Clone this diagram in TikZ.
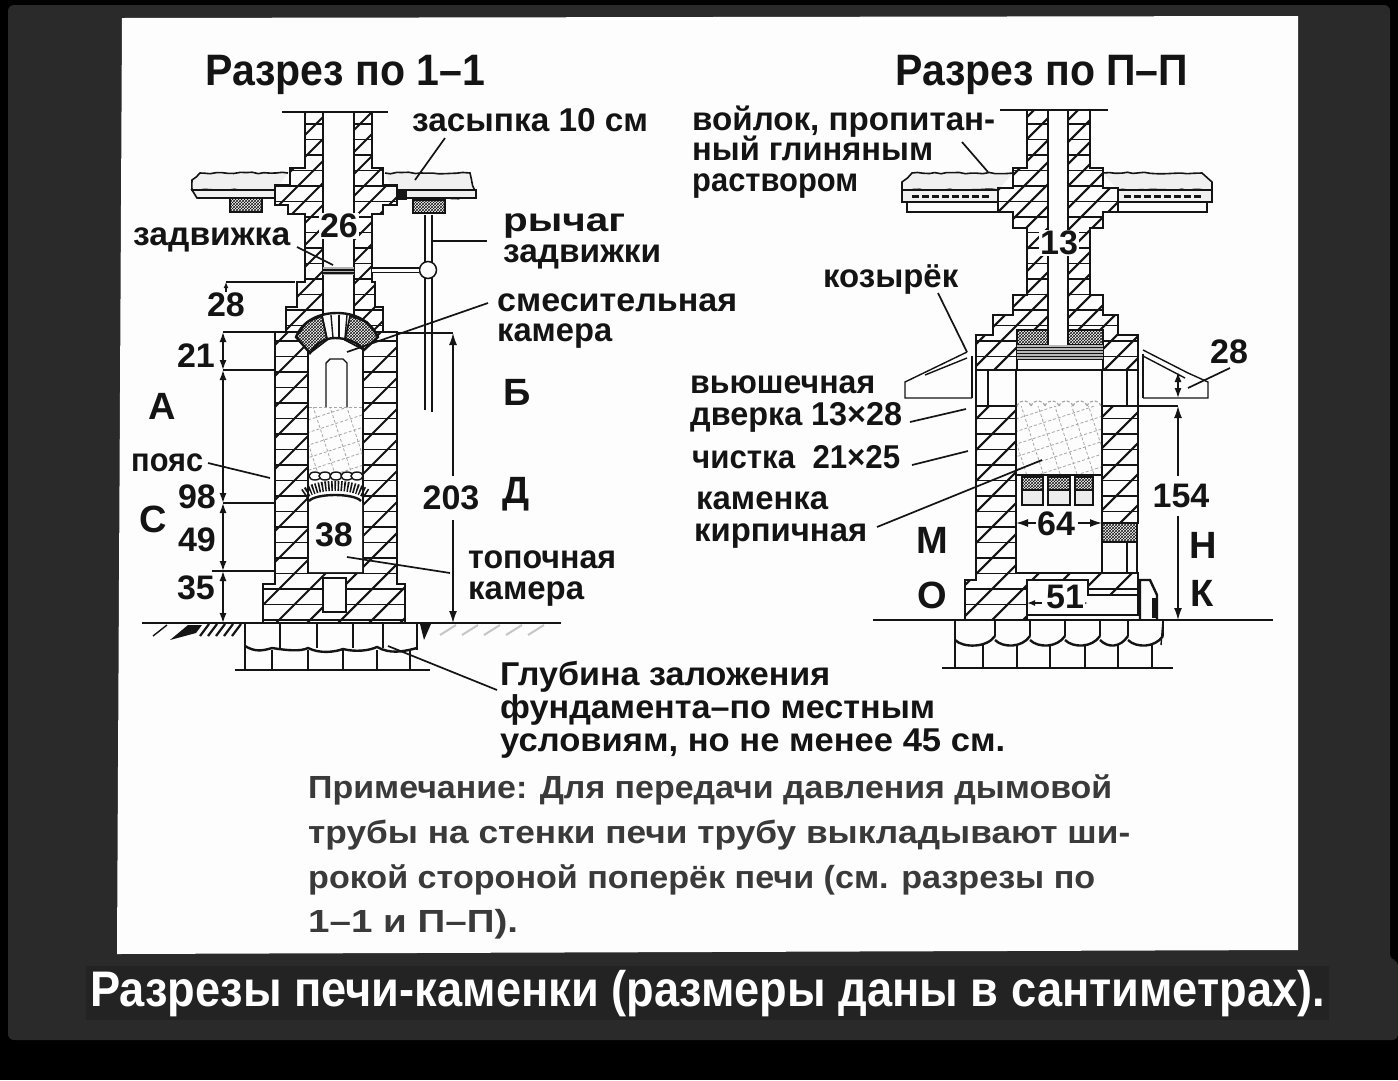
\documentclass[tikz,border=0pt]{standalone}
\usepackage{fontspec}
\setmainfont{Liberation Sans}
\usepackage{graphicx}
\usetikzlibrary{arrows.meta,patterns,decorations.pathmorphing}
\definecolor{ink}{HTML}{141414}
\definecolor{soft}{HTML}{3A3A3A}
\definecolor{paper}{HTML}{FDFDFD}
\definecolor{slide}{HTML}{2A2A2A}
\definecolor{capbg}{HTML}{232323}
\newcommand{\fitw}[2]{\resizebox{#1pt}{\height}{#2}}
% wall of bricks, spacing of the diagonals and a closed path
\newcommand{\brick}[2]{
  \begin{scope}
    \clip #2;
    \fill[paper] (0,0) rectangle (1398,1080);
    \foreach \h in {0,15.5,...,1080} {
      \draw[course] (0,\h) -- (1398,\h);
    }
    \foreach \d in {0,#1,...,2500} {
      \draw[hatch] (\d,0) -- (\d-1080,1080);
    }
  \end{scope}
  \draw[wall] #2;
}
% broken stone: x1, y1, x2, y2
\newcommand{\rubble}[4]{
  \begin{scope}
    \clip (#1,#2) rectangle (#3,#4);
    \begin{scope}[rotate around={18:(#1,#2)}]
      \foreach \h in {-60,-48,...,200} {
        \draw[rub] (#1-80,#2+\h) -- (#3+80,#2+\h);
      }
      \foreach \h in {-60,-44,...,200} {
        \draw[rub] (#1+\h,#2-80) -- (#1+\h,#4+80);
      }
    \end{scope}
  \end{scope}
}
\tikzset{
  lab/.style={anchor=base west,inner sep=0pt,text=ink,font=\bfseries\fontsize{33}{33}\selectfont},
  num/.style={inner sep=1pt,fill=paper,text=ink,font=\bfseries\fontsize{34}{34}\selectfont},
  big/.style={inner sep=0pt,text=ink,font=\bfseries\fontsize{38}{38}\selectfont},
  note/.style={anchor=base west,inner sep=0pt,text=soft,font=\bfseries\fontsize{32}{32}\selectfont},
  course/.style={line width=1.8pt,ink},
  hatch/.style={line width=2.1pt,ink},
  wall/.style={line width=2.4pt,ink},
  thin/.style={line width=1.4pt,ink},
  leader/.style={line width=1.7pt,ink},
  dimline/.style={line width=1.4pt,ink,{Latex[length=10pt,width=7pt]}-{Latex[length=10pt,width=7pt]}},
  rub/.style={line width=.8pt,gray!70,dash pattern=on 3pt off 2pt},
  slab/.style={fill=gray!12,draw=ink,line width=1.6pt},
  cross/.style={pattern=crosshatch,pattern color=ink,draw=ink,line width=1.6pt},
  rough/.style={decorate,decoration={random steps,segment length=6pt,amplitude=.8pt}}
}
\begin{document}
\begin{tikzpicture}[x=1pt,y=-1pt]
  \useasboundingbox (0,0) rectangle (1398,1080);
  % Slide and paper
  \fill[black] (0,0) rectangle (1398,1080);
  \fill[slide,rounded corners=6pt] (8,5) -- (1390,5) -- (1390,960) -- (1398,960) -- (1398,1040) -- (8,1040) -- cycle;
  \fill[paper] (122,18) -- (1298,16) -- (1298,950) -- (117,954) -- cycle;

  % Section 1-1: ceiling
  \draw[slab,rough] (288,173) -- (200,173) -- (192,180) -- (192,190) -- (275,190);
  \draw[slab] (192,190) -- (275,190) -- (275,198) -- (197,198) -- cycle;
  \draw[cross] (230,198) rectangle (262,212);
  \draw[slab,rough] (385,173) -- (470,173) -- (476,198) -- (397,198);
  \draw[slab] (397,190) rectangle (476,198);
  \fill[ink] (398,190) rectangle (407,200);
  \draw[cross] (413,200) rectangle (445,213);
  \draw[wall] (419,213) -- (436,213);
  % Section 1-1: chimney
  \draw[thin] (282,112) -- (388,112);
  \brick{22}{(305,112) -- (323,112) -- (323,332) -- (286,332) -- (286,307) -- (297,307) -- (297,282) -- (305,282) -- (305,214) -- (288,214) -- (288,205) -- (275,205) -- (275,185) -- (290,185) -- (290,168) -- (305,168) -- cycle}
  \brick{22}{(354,112) -- (372,112) -- (372,168) -- (383,168) -- (383,185) -- (397,185) -- (397,205) -- (383,205) -- (383,214) -- (372,214) -- (372,282) -- (375,282) -- (375,307) -- (383,307) -- (383,332) -- (354,332) -- cycle}
  % Section 1-1: lever and damper
  \draw[thin] (425,215) -- (425,410);
  \draw[thin] (432,215) -- (432,412);
  \node[circle,draw=ink,fill=paper,line width=1.5pt,minimum size=17pt,inner sep=0pt] (knob) at (428,270) {};
  \fill[gray!60] (323,267) rectangle (354,275);
  \draw[thin] (323,270) -- (354,270);
  \draw[thin] (323,273) -- (354,273);
  \draw[thin,double=paper,double distance=3pt] (372,270) -- (knob);

  % Section 1-1: body
  \brick{31}{(275,332) -- (308,332) -- (308,572) -- (363,572) -- (363,332) -- (397,332) -- (397,584) -- (405,584) -- (405,623) -- (263,623) -- (263,584) -- (275,584) -- cycle}
  \draw[wall,fill=paper] (323,578) rectangle (346,612);
  % Section 1-1: upper arch
  \draw[wall,fill=paper] (296,337) .. controls (303,320) and (320,313) .. (337,313)
    .. controls (354,313) and (370,320) .. (378,337) -- (364,350)
    .. controls (358,342) and (346,338) .. (335,338)
    .. controls (324,338) and (316,344) .. (310,353) -- cycle;
  \foreach \a/\b in {322/327,331/333,339/339,347/345} {
    \draw[thin] (\a,315) -- (\b,338);
  }
  \draw[cross] (296,337) -- (307,322) -- (322,316) -- (327,340) -- (310,353) -- cycle;
  \draw[cross] (378,337) -- (367,322) -- (350,316) -- (345,340) -- (364,350) -- cycle;
  % Section 1-1: flue and stones
  \draw[thin] (326,407) -- (326,363) -- (330,359) -- (343,359) -- (347,363) -- (347,407);
  \rubble{309}{407}{362}{474}
  \draw[rub] (309,407) -- (362,407);
  \foreach \x in {315,325,336,347,357} {
    \draw[thin,fill=paper] (\x,476) ellipse (6 and 4);
  }
  % Section 1-1: lower arch
  \draw[fill=paper,draw=none] (309,503) .. controls (315,494) and (355,494) .. (362,503) -- (362,572) -- (309,572) -- cycle;
  \draw[ink,line width=10pt,dash pattern=on 1.6pt off 1.6pt] (304,494) .. controls (318,483) and (352,483) .. (367,494);
  \draw[wall] (309,501) .. controls (316,493) and (354,493) .. (361,501);

  % Section 1-1: ground and footing
  \draw[thin] (142,623) -- (561,623);
  \draw[thin] (245,623) -- (245,670);
  \draw[thin] (417,623) -- (417,650);
  \draw[thin] (235,670) -- (430,670);
  \foreach \x in {280,317,353,383} {
    \draw[thin] (\x,623) -- (\x,648);
  }
  \foreach \x in {272,308,343,377,410} {
    \draw[thin] (\x,650) -- (\x,670);
  }
  \draw[line width=2.4pt,ink] (245,646) .. controls (255,652) and (262,651) .. (272,648)
    .. controls (285,650) and (300,652) .. (308,648)
    .. controls (320,654) and (335,652) .. (343,649)
    .. controls (355,652) and (368,651) .. (377,647)
    .. controls (390,654) and (402,652) .. (417,648);
  \fill[ink] (170,640) -- (188,625) -- (202,625) -- (196,633) -- cycle;
  \foreach \x in {200,208,216,224,232} {
    \draw[line width=2.2pt,ink] (\x,636) -- (\x+9,624);
  }
  \fill[ink] (420,624) -- (431,624) -- (424,640) -- cycle;
  \draw[thin] (153,636) -- (167,625);
  \foreach \x in {440,462,484,506,528} {
    \draw[line width=2pt,gray!45] (\x,635) -- (\x+16,625);
  }

  % Section 1-1: dimensions
  \coordinate (la) at (223,332);
  \coordinate (lb) at (223,370);
  \coordinate (lc) at (223,503);
  \coordinate (ld) at (223,571);
  \coordinate (le) at (223,623);
  \coordinate (lf) at (226,282);
  \draw[dimline] (la) -- (lb);
  \draw[dimline] (lb) -- (lc);
  \draw[dimline] (lc) -- (ld);
  \draw[dimline] (ld) -- (le);
  \draw[thin,-{Latex[length=6pt,width=5pt]}] (226,292) -- (lf);
  \draw[thin] (lf) -- (295,282);
  \draw[thin] (la) -- (275,332);
  \draw[thin] (lb) -- (275,370);
  \draw[thin] (lc) -- (275,503);
  \draw[thin] (212,571) -- (275,571);
  \coordinate (ra) at (453,333);
  \coordinate (rb) at (453,476);
  \coordinate (rc) at (453,520);
  \coordinate (rd) at (453,623);
  \draw[thin] (397,333) -- (ra);
  \draw[thin,{Latex[length=12pt,width=8pt]}-] (ra) -- (rb);
  \draw[thin,-{Latex[length=12pt,width=8pt]}] (rc) -- (rd);

  % Section 2-2: ceiling
  \draw[slab,rough] (1013,173) -- (912,173) -- (902,182) -- (902,190) -- (998,190);
  \draw[slab] (902,190) rectangle (998,202);
  \draw[thin] (907,202) rectangle (998,212);
  \foreach \x in {912,932,952,972} {
    \draw[ink,line width=3pt,dash pattern=on 7pt off 3pt] (\x,196) -- (\x+18,196);
  }
  \draw[slab,rough] (1103,173) -- (1202,173) -- (1212,182) -- (1212,190) -- (1118,190);
  \draw[slab] (1118,190) rectangle (1212,202);
  \draw[thin] (1118,202) rectangle (1207,212);
  \foreach \x in {1124,1144,1164,1184} {
    \draw[ink,line width=3pt,dash pattern=on 7pt off 3pt] (\x,196) -- (\x+18,196);
  }
  % Section 2-2: chimney and corbels
  \draw[thin] (1000,110) -- (1108,110);
  \brick{22}{(1027,110) -- (1048,110) -- (1048,330) -- (1017,330) -- (1017,370) -- (976,370) -- (976,335) -- (993,335) -- (993,315) -- (1013,315) -- (1013,295) -- (1027,295) -- (1027,228) -- (1013,228) -- (1013,212) -- (998,212) -- (998,188) -- (1013,188) -- (1013,168) -- (1027,168) -- cycle}
  \brick{22}{(1068,110) -- (1090,110) -- (1090,168) -- (1103,168) -- (1103,188) -- (1118,188) -- (1118,212) -- (1103,212) -- (1103,228) -- (1090,228) -- (1090,295) -- (1103,295) -- (1103,315) -- (1118,315) -- (1118,335) -- (1138,335) -- (1138,370) -- (1103,370) -- (1103,330) -- (1068,330) -- cycle}
  \draw[cross] (1017,330) rectangle (1048,345);
  \draw[cross] (1068,330) rectangle (1103,345);
  \fill[gray!55] (1017,345) rectangle (1103,360);
  \foreach \y in {347,350,353,356,359} {
    \draw[line width=1pt,ink] (1017,\y) -- (1103,\y);
  }
  % Section 2-2: shelf with visor
  \draw[wall] (976,370) rectangle (1016,406);
  \draw[wall] (1102,370) rectangle (1138,406);
  \draw[thin] (988,370) -- (988,406);
  \draw[thin] (1127,370) -- (1127,406);
  \draw[thin] (1016,370) -- (1102,370);
  \draw[thin] (967,352) -- (905,382) -- (905,398) -- (972,398);
  \draw[thin] (967,358) -- (925,375);
  \draw[thin] (972,356) -- (972,398);
  \draw[thin] (1143,350) -- (1188,373) -- (1208,382) -- (1208,398) -- (1143,398);
  \draw[thin] (1143,356) -- (1185,378);
  \draw[thin] (1143,354) -- (1143,398);
  % Section 2-2: body
  \brick{31}{(976,406) -- (1016,406) -- (1016,573) -- (1102,573) -- (1102,406) -- (1138,406) -- (1138,523) -- (1102,523) -- (1102,573) -- (1138,573) -- (1138,595) -- (1088,595) -- (1088,580) -- (1027,580) -- (1027,620) -- (965,620) -- (965,580) -- (976,580) -- cycle}
  \rubble{1017}{406}{1101}{475}
  \foreach \x in {1024,1038,1052,1066,1080,1094} {
    \draw[rub,line width=1.2pt] (\x-7,406) .. controls (\x-4,399) and (\x+4,399) .. (\x+7,406);
  }
  \draw[thin] (1017,475) -- (1101,475);
  \foreach \x/\w in {1022/21,1048/22,1075/18} {
    \draw[cross] (\x,477) rectangle ++(\w,13);
    \draw[wall,fill=gray!15] (\x,490) rectangle ++(\w,15);
  }
  \draw[cross] (1102,523) rectangle (1137,542);
  \draw[wall] (1102,542) rectangle (1127,573);
  \draw[wall] (1127,542) rectangle (1137,573);
  \draw[thin] (1027,615) -- (1138,615) -- (1138,595);
  \draw[wall] (1140,620) -- (1140,580) -- (1150,580) -- (1157,595) -- (1157,620);
  \draw[ink,line width=4pt] (1154,598) -- (1154,618);
  % Section 2-2: ground and footing
  \draw[thin] (873,620) -- (1273,620);
  \draw[thin] (955,620) -- (955,668);
  \draw[thin] (1163,620) -- (1161,645);
  \draw[thin] (942,668) -- (1173,668);
  \foreach \a/\b in {955/995,995/1030,1030/1065,1065/1100,1100/1128,1128/1163} {
    \draw[wall] (\a,640) .. controls (\a+8,648) and (\b-8,648) .. (\b,636);
    \draw[thin] (\b,620) -- (\b,636);
  }
  \foreach \x in {983,1017,1050,1085,1118,1152} {
    \draw[thin] (\x,645) -- (\x,668);
  }

  % Section 2-2: dimensions
  \coordinate (ha) at (1178,406);
  \coordinate (hb) at (1178,476);
  \coordinate (hc) at (1178,516);
  \coordinate (hd) at (1178,620);
  \coordinate (va) at (1178,372);
  \coordinate (vb) at (1178,398);
  \draw[thin] (1138,406) -- (ha);
  \draw[thin,{Latex[length=12pt,width=8pt]}-] (ha) -- (hb);
  \draw[thin,-{Latex[length=12pt,width=8pt]}] (hc) -- (hd);
  \draw[dimline] (va) -- (vb);
  \coordinate (wa) at (1016,523);
  \coordinate (wb) at (1038,523);
  \coordinate (wc) at (1078,523);
  \coordinate (wd) at (1102,523);
  \draw[line width=1.5pt,ink,{Latex[length=12pt,width=8pt]}-] (wa) -- (wb);
  \draw[line width=1.5pt,ink,-{Latex[length=12pt,width=8pt]}] (wc) -- (wd);
  \coordinate (pa) at (1027,603);
  \coordinate (pb) at (1042,603);
  \coordinate (pc) at (1076,603);
  \coordinate (pd) at (1088,603);
  \draw[line width=1.5pt,ink,{Latex[length=8pt,width=6pt]}-] (pa) -- (pb);
  \draw[line width=1.5pt,ink,-{Latex[length=8pt,width=6pt]}] (pc) -- (pd);

  % Titles
  \node[lab,font=\bfseries\fontsize{44}{44}\selectfont] (titleA) at (205,85) {\fitw{280}{Разрез по 1–1}};
  \node[lab,font=\bfseries\fontsize{44}{44}\selectfont] (titleB) at (895,85) {\fitw{293}{Разрез по П–П}};
  % Labels of section 1-1
  \node[lab] (zas) at (412,131) {\fitw{236}{засыпка 10 см}};
  \node[lab] (zad) at (133,245) {\fitw{157}{задвижка}};
  \node[lab] (rycA) at (503,231) {\fitw{122}{рычаг}};
  \node[lab] (rycB) at (503,262) {\fitw{158}{задвижки}};
  \node[lab] (smeA) at (497,311) {\fitw{240}{смесительная}};
  \node[lab] (smeB) at (497,341) {\fitw{115}{камера}};
  \node[lab] (poyas) at (131,471) {\fitw{72}{пояс}};
  \node[lab] (topA) at (468,568) {\fitw{148}{топочная}};
  \node[lab] (topB) at (468,599) {\fitw{116}{камера}};
  \node[lab] (gluA) at (500,685) {\fitw{330}{Глубина заложения}};
  \node[lab] (gluB) at (500,718) {\fitw{435}{фундамента–по местным}};
  \node[lab] (gluC) at (500,751) {\fitw{505}{условиям, но не менее 45 см.}};
  % Labels of section 2-2
  \node[lab] (voiA) at (692,130) {\fitw{303}{войлок, пропитан-}};
  \node[lab] (voiB) at (692,160) {\fitw{241}{ный глиняным}};
  \node[lab] (voiC) at (692,191) {\fitw{166}{раствором}};
  \node[lab] (koz) at (823,287) {\fitw{135}{козырёк}};
  \node[lab] (vyuA) at (690,393) {\fitw{185}{вьюшечная}};
  \node[lab] (vyuB) at (690,425) {\fitw{212}{дверка 13×28}};
  \node[lab] (chi) at (692,468) {\fitw{208}{чистка\ \ 21×25}};
  \node[lab] (kamA) at (696,509) {\fitw{132}{каменка}};
  \node[lab] (kamB) at (694,541) {\fitw{173}{кирпичная}};
  % Numbers and letters
  \foreach \nm/\x/\y/\txt in {n26/339/226/26,n28a/226/305/28,n21/196/356/21,n98/197/497/98,n49/197/540/49,n35/196/588/35,n38/334/535/38,n203/451/498/203,n13/1059/243/13,n28b/1229/352/28,n64/1056/524/64,n154/1181/496/154,n51/1065/597/51} {
    \node[num] (\nm) at (\x,\y) {\txt};
  }
  \foreach \nm/\x/\y/\txt in {la/162/406/А,lb/517/392/Б,lc/153/519/С,ld/516/494/Д,lm/932/540/М,ln/1203/545/Н,lo/932/595/О,lk/1202/593/К} {
    \node[big] (let\nm) at (\x,\y) {\txt};
  }
  % Leaders
  \coordinate (zasS) at (445,138);  \coordinate (zasE) at (415,180);
  \coordinate (rycS) at (487,241);  \coordinate (rycE) at (433,241);
  \coordinate (zadS) at (297,247);  \coordinate (zadE) at (333,265);
  \coordinate (smeS) at (488,303);  \coordinate (smeE) at (347,352);
  \coordinate (poyS) at (208,463);  \coordinate (poyE) at (270,478);
  \coordinate (topS) at (450,573);  \coordinate (topE) at (347,557);
  \coordinate (gluS) at (497,690);  \coordinate (gluE) at (388,646);
  \coordinate (voiS) at (962,142);  \coordinate (voiE) at (988,172);
  \coordinate (kozS) at (938,293);  \coordinate (kozE) at (967,352);
  \coordinate (vyuS) at (910,422);  \coordinate (vyuE) at (966,409);
  \coordinate (chiS) at (912,465);  \coordinate (chiE) at (968,451);
  \coordinate (kamS) at (877,527);  \coordinate (kamE) at (1042,460);
  \coordinate (sizS) at (1230,368); \coordinate (sizE) at (1188,388);
  \foreach \ld in {zas,ryc,zad,sme,poy,top,glu,voi,koz,vyu,chi,kam,siz} {
    \draw[leader] (\ld S) -- (\ld E);
  }
  % Note
  \node[note] (noteA) at (308,798) {\fitw{804}{Примечание: Для передачи давления дымовой}};
  \node[note] (noteB) at (308,843) {\fitw{822}{трубы на стенки печи трубу выкладывают ши-}};
  \node[note] (noteC) at (308,888) {\fitw{787}{рокой стороной поперёк печи (см. разрезы по}};
  \node[note] (noteD) at (308,932) {\fitw{210}{1–1 и П–П).}};
  % Caption
  \node[lab,text=white,fill=capbg,inner sep=4pt,font=\bfseries\fontsize{50}{50}\selectfont] (caption) at (86,1006) {\fitw{1235}{Разрезы печи-каменки (размеры даны в сантиметрах).}};
\end{tikzpicture}
\end{document}
